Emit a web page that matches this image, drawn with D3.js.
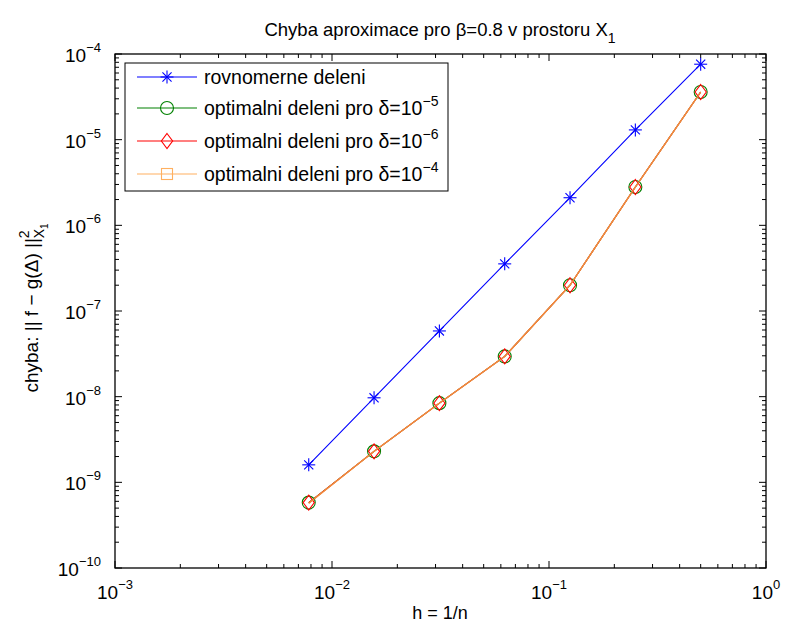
<html>
<head>
<script src="https://cdn.jsdelivr.net/npm/d3@7"></script>
<style>
  body { margin: 0; background: #fff; }
  text { font-family: "Liberation Sans", Arial, sans-serif; fill: #000; }
</style>
</head>
<body>
<svg width="785" height="628"></svg>
<script>
// data (h = 1/n, n = 2..128)
var hVals = [1/128, 1/64, 1/32, 1/16, 1/8, 1/4, 1/2]
var rovnomerne = [1.6e-9, 9.7e-9, 5.85e-8, 3.55e-7, 2.1e-6, 1.3e-5, 7.6e-5]
var opt5 = [5.8e-10, 2.3e-9, 8.4e-9, 2.95e-8, 2.0e-7, 2.8e-6, 3.6e-5]
var opt6 = [5.8e-10, 2.3e-9, 8.4e-9, 2.95e-8, 2.0e-7, 2.8e-6, 3.6e-5]
var opt4 = [5.7e-10, 2.3e-9, 8.4e-9, 2.95e-8, 2.0e-7, 2.8e-6, 3.6e-5]
var xTickExp = [-3, -2, -1, 0]
var yTickExp = [-10, -9, -8, -7, -6, -5, -4]
var legendLabels = ['rovnomerne deleni', 'optimalni deleni pro \u03B4=10', 'optimalni deleni pro \u03B4=10', 'optimalni deleni pro \u03B4=10']
var legendSup = ['', '\u22125', '\u22126', '\u22124']

var svg = d3.select('svg')
var L = 115, R = 766, T = 54, B = 568

var x = d3.scaleLog().domain([1e-3, 1]).range([L, R])
var y = d3.scaleLog().domain([1e-10, 1e-4]).range([B, T])

// ticks (inside, all four sides)
var g = svg.append('g')
var xMinor = [], yMinor = []
for (var e = -3; e < 0; e++) for (var k = 2; k < 10; k++) xMinor.push(k * Math.pow(10, e))
for (var e = -10; e < -4; e++) for (var k = 2; k < 10; k++) yMinor.push(k * Math.pow(10, e))

function tick(x1, y1, x2, y2) {
  g.append('line').attr('x1', x1).attr('y1', y1).attr('x2', x2).attr('y2', y2)
    .attr('stroke', '#000').attr('stroke-width', 1)
}
xTickExp.forEach(function(e){ var px = x(Math.pow(10, e)); tick(px, B, px, B-7); tick(px, T, px, T+7) })
xMinor.forEach(function(v){ var px = x(v); tick(px, B, px, B-4); tick(px, T, px, T+4) })
yTickExp.forEach(function(e){ var py = y(Math.pow(10, e)); tick(L, py, L+7, py); tick(R, py, R-7, py) })
yMinor.forEach(function(v){ var py = y(v); tick(L, py, L+4, py); tick(R, py, R-4, py) })

svg.append('rect').attr('x', L).attr('y', T).attr('width', R-L).attr('height', B-T)
  .attr('fill', 'none').attr('stroke', '#000').attr('stroke-width', 1.3)

// tick labels
xTickExp.forEach(function(e){
  var t = svg.append('text').attr('x', x(Math.pow(10, e))).attr('y', 599)
    .attr('text-anchor', 'middle').attr('font-size', 19)
  t.append('tspan').text('10')
  t.append('tspan').attr('dy', -10).attr('font-size', 13).text(e == 0 ? '0' : '\u2212' + Math.abs(e))
})
yTickExp.forEach(function(e){
  var t = svg.append('text').attr('x', 101).attr('y', y(Math.pow(10, e)) + 8)
    .attr('text-anchor', 'end').attr('font-size', 19)
  t.append('tspan').text('10')
  t.append('tspan').attr('dy', -10).attr('font-size', 13).text('\u2212' + Math.abs(e))
})

// title & axis labels
var title = svg.append('text').attr('x', 440).attr('y', 36).attr('text-anchor', 'middle').attr('font-size', 18.5)
title.append('tspan').text('Chyba aproximace pro \u03B2=0.8 v prostoru X')
title.append('tspan').attr('dy', 7).attr('font-size', 14).text('1')

svg.append('text').attr('x', 440).attr('y', 619).attr('text-anchor', 'middle').attr('font-size', 18).text('h = 1/n')

var yl = svg.append('text').attr('transform', 'translate(38,' + 308 + ') rotate(-90)')
  .attr('text-anchor', 'middle').attr('font-size', 19)
yl.append('tspan').text('chyba: || f \u2212 g(\u0394) ||')
yl.append('tspan').attr('dy', -9).attr('font-size', 14).text('2')
yl.append('tspan').attr('dx', -8).attr('dy', 15).attr('font-size', 14).text('X')
yl.append('tspan').attr('dy', 4).attr('font-size', 10).text('1')

// series
var line = d3.line().x(function(d){ return x(d[0]) }).y(function(d){ return y(d[1]) })
function pairs(vals){ return hVals.map(function(h, i){ return [h, vals[i]] }) }

function star(sel, cx, cy, col) {
  var r = 6.5
  var s = sel.append('g').attr('stroke', col).attr('stroke-width', 1.1)
  s.append('line').attr('x1', cx-r).attr('y1', cy).attr('x2', cx+r).attr('y2', cy)
  s.append('line').attr('x1', cx).attr('y1', cy-r).attr('x2', cx).attr('y2', cy+r)
  s.append('line').attr('x1', cx-r*0.7).attr('y1', cy-r*0.7).attr('x2', cx+r*0.7).attr('y2', cy+r*0.7)
  s.append('line').attr('x1', cx-r*0.7).attr('y1', cy+r*0.7).attr('x2', cx+r*0.7).attr('y2', cy-r*0.7)
}
function circle(sel, cx, cy, col) {
  sel.append('circle').attr('cx', cx).attr('cy', cy).attr('r', 6.5)
    .attr('fill', 'none').attr('stroke', col).attr('stroke-width', 1.1)
}
function diamond(sel, cx, cy, col) {
  var r = 7.5
  sel.append('path').attr('d', 'M' + cx + ',' + (cy-r) + 'L' + (cx+r*0.75) + ',' + cy + 'L' + cx + ',' + (cy+r) + 'L' + (cx-r*0.75) + ',' + cy + 'Z')
    .attr('fill', 'none').attr('stroke', col).attr('stroke-width', 1.1)
}
function square(sel, cx, cy, col) {
  var r = 5.5
  sel.append('rect').attr('x', cx-r).attr('y', cy-r).attr('width', 2*r).attr('height', 2*r)
    .attr('fill', 'none').attr('stroke', col).attr('stroke-width', 1.1)
}

var series = [
  { vals: rovnomerne, col: '#0000ff', mark: star },
  { vals: opt5, col: '#008000', mark: circle },
  { vals: opt6, col: '#ff0000', mark: diamond },
  { vals: opt4, col: '#ffa040', mark: square }
]
var plot = svg.append('g')
series.forEach(function(s){
  plot.append('path').datum(pairs(s.vals)).attr('d', line)
    .attr('fill', 'none').attr('stroke', s.col).attr('stroke-width', 1.1)
})
// markers: diamond/circle drawn over square, line of last series over all
series.forEach(function(s){
  if (s.mark === square) return
  pairs(s.vals).forEach(function(p){ s.mark(plot, x(p[0]), y(p[1]), s.col) })
})
plot.append('path').datum(pairs(opt4)).attr('d', line)
  .attr('fill', 'none').attr('stroke', '#f08840').attr('stroke-width', 1.3)

// legend
var lg = svg.append('g')
lg.append('rect').attr('x', 125).attr('y', 63).attr('width', 323).attr('height', 128)
  .attr('fill', '#fff').attr('stroke', '#000').attr('stroke-width', 1)
var rowY = [77, 108, 141, 174]
var legCols = ['#0000ff', '#008000', '#ff0000', '#ffb060']
series.forEach(function(s, i){
  var yy = rowY[i]
  lg.append('line').attr('x1', 137).attr('y1', yy).attr('x2', 197).attr('y2', yy)
    .attr('stroke', legCols[i]).attr('stroke-width', 1.1)
  s.mark(lg, 167, yy, legCols[i])
  var t = lg.append('text').attr('x', 204).attr('y', yy + 7).attr('font-size', 19.5)
  t.append('tspan').text(legendLabels[i])
  if (legendSup[i]) t.append('tspan').attr('dy', -9).attr('font-size', 14).text(legendSup[i])
})
</script>
</body>
</html>
